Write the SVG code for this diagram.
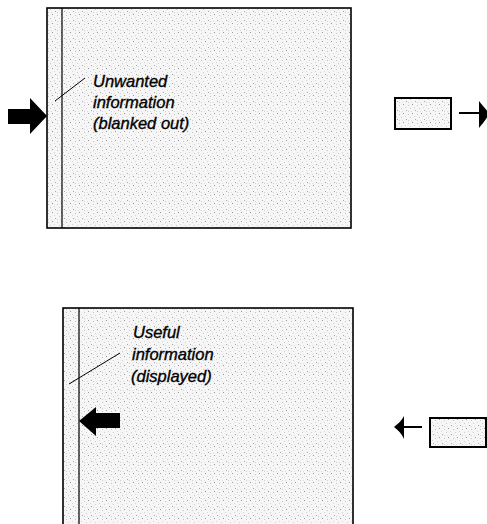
<svg xmlns="http://www.w3.org/2000/svg" width="487" height="524" viewBox="0 0 487 524">
  <defs>
    <pattern id="stipple" width="9" height="9" patternUnits="userSpaceOnUse">
      <rect width="9" height="9" fill="#f6f6f6"/>
      <rect x="1" y="2" width="1" height="1" fill="#a8a8a8"/>
      <rect x="5" y="0" width="1" height="1" fill="#cccccc"/>
      <rect x="7" y="5" width="1" height="1" fill="#999999"/>
      <rect x="3" y="6" width="1" height="1" fill="#c4c4c4"/>
      <rect x="0" y="8" width="1" height="1" fill="#d6d6d6"/>
      <rect x="6" y="3" width="1" height="1" fill="#dddddd"/>
      <rect x="3" y="3" width="1" height="1" fill="#d0d0d0"/>
    </pattern>
  </defs>
  <style>
    .panel { fill: url(#stipple); stroke: #000; stroke-width: 1.6; }
    .divider { stroke: #000; stroke-width: 1.2; fill: none; }
    .small { fill: url(#stipple); stroke: #000; stroke-width: 2; }
    .label { font-family: "Liberation Sans", Arial, sans-serif; font-style: italic; font-size: 16.5px; fill: #000; stroke: #000; stroke-width: 0.35; }
    .leader { stroke: #000; stroke-width: 1; fill: none; }
    .line { stroke: #000; stroke-width: 2; fill: none; }
    .head { fill: #000; stroke: none; }
  </style>
  <rect width="487" height="524" fill="#fff"/>

  <g id="top-panel">
    <rect class="panel" x="47" y="8" width="304" height="220"/>
    <line class="divider" x1="62" y1="8" x2="62" y2="228"/>
  </g>

  <g id="top-label">
    <text class="label" x="93" y="87">Unwanted</text>
    <text class="label" x="93" y="108">information</text>
    <text class="label" x="93" y="129">(blanked out)</text>
  </g>

  <g id="top-small-box">
    <rect class="small" x="395" y="98" width="56" height="31"/>
  </g>

  <g id="bottom-panel">
    <rect class="panel" x="63" y="308" width="290" height="230"/>
    <line class="divider" x1="79" y1="308" x2="79" y2="524"/>
  </g>

  <g id="bottom-label">
    <text class="label" x="133" y="338">Useful</text>
    <text class="label" x="132" y="360">information</text>
    <text class="label" x="131" y="382">(displayed)</text>
  </g>

  <g id="bottom-small-box">
    <rect class="small" x="430" y="418" width="56" height="29"/>
  </g>

  <g id="connectors">
    <path class="head" d="M8,109 L30,109 L30,98 L47,116 L30,134 L30,124 L8,124 Z"/>
    <line class="leader" x1="55" y1="101" x2="85" y2="78"/>
    <line class="line" x1="459" y1="113" x2="481" y2="113"/>
    <path class="head" d="M479,101 C483,106 487,110 489,114 C487,118 483,123 479,128 Z"/>

    <path class="head" d="M79,421 L96,407 L96,413 L120,413 L120,428 L96,428 L96,436 Z"/>
    <line class="leader" x1="69" y1="384" x2="120" y2="353"/>
    <line class="line" x1="402" y1="427" x2="422" y2="427"/>
    <path class="head" d="M394,427 C398,424 402,420 404,416 L404,439 C402,434 398,430 394,427 Z"/>
  </g>
</svg>
